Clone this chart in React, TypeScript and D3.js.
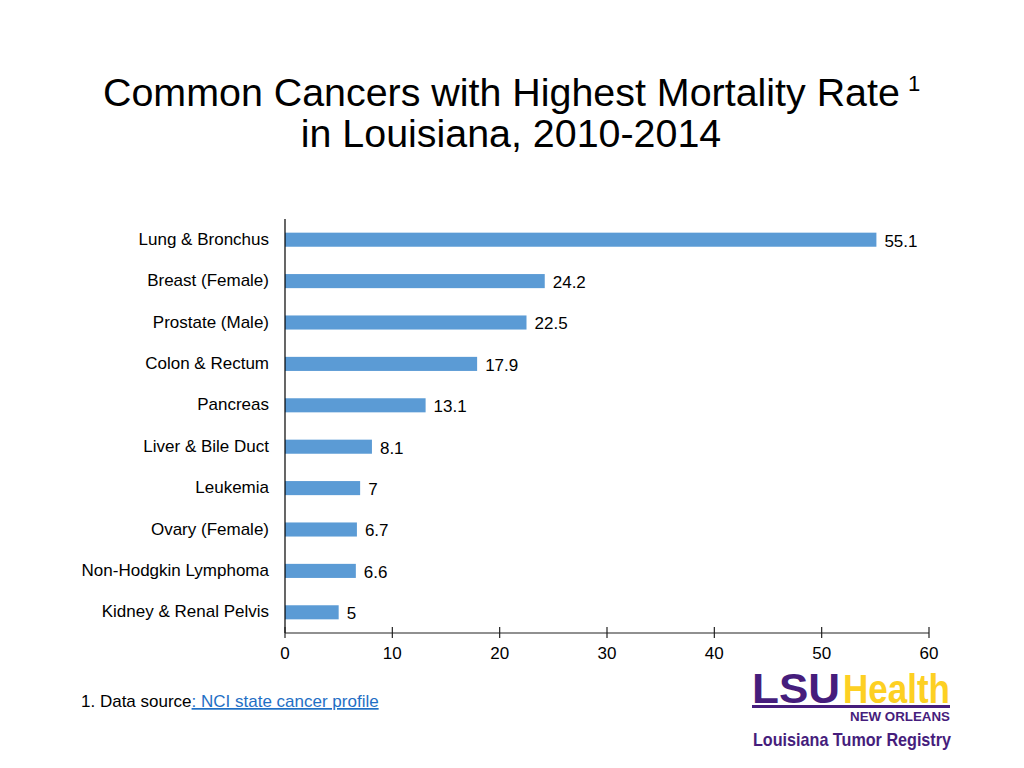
import React from "react";
import * as d3 from "d3";

const categories = [
  "Lung & Bronchus",
  "Breast (Female)",
  "Prostate (Male)",
  "Colon & Rectum",
  "Pancreas",
  "Liver & Bile Duct",
  "Leukemia",
  "Ovary (Female)",
  "Non-Hodgkin Lymphoma",
  "Kidney & Renal Pelvis",
];
const values = [55.1, 24.2, 22.5, 17.9, 13.1, 8.1, 7, 6.7, 6.6, 5];
const valueLabels = ["55.1", "24.2", "22.5", "17.9", "13.1", "8.1", "7", "6.7", "6.6", "5"];
const xTicks = [0, 10, 20, 30, 40, 50, 60];

const FONT = "'Liberation Sans', Arial, Helvetica, sans-serif";
const PURPLE = "#461D7C";
const GOLD = "#FDD023";
const FS = 17;

export default function App() {
  const x = d3.scaleLinear().domain([0, 60]).range([285, 929]);
  const y = d3.scaleBand<string>().domain(categories).range([219, 633]).paddingInner(0.66).paddingOuter(0.33);
  const bw = y.bandwidth();

  return (
    <svg width={1024} height={768} style={{ display: "block", position: "absolute", left: 0, top: 0, background: "#fff" }}>
      <rect x={0} y={0} width={1024} height={768} fill="#fff" />
      {/* Title */}
      <text x={103} y={106} fontFamily={FONT} fontSize={39.4} fill="#000">
        Common Cancers with Highest Mortality Rate
      </text>
      <text x={908} y={91} fontFamily={FONT} fontSize={22} fill="#000">1</text>
      <text x={511} y={147} fontFamily={FONT} fontSize={39.4} fill="#000" textAnchor="middle">
        in Louisiana, 2010-2014
      </text>

      {/* Bars */}
      {categories.map((c, i) => (
        <g key={c}>
          <rect x={x(0)} y={y(c)!} width={x(values[i]) - x(0)} height={bw} fill="#5B9BD5" />
          <text x={269} y={y(c)! + bw / 2} dy="0.3em" textAnchor="end" fontFamily={FONT} fontSize={FS} fill="#000">
            {c}
          </text>
          <text x={x(values[i]) + 8} y={y(c)! + bw / 2 + 1} dy="0.35em" fontFamily={FONT} fontSize={FS} fill="#000">
            {valueLabels[i]}
          </text>
        </g>
      ))}

      {/* Axes */}
      <line x1={285} x2={285} y1={219} y2={633} stroke="#000" strokeWidth={1.2} />
      <line x1={285} x2={929} y1={633} y2={633} stroke="#222" strokeWidth={1.2} />
      {xTicks.map((t) => (
        <g key={t}>
          <line x1={x(t)} x2={x(t)} y1={627} y2={638} stroke="#222" strokeWidth={1.2} />
          <text x={x(t)} y={659} textAnchor="middle" fontFamily={FONT} fontSize={FS} fill="#000">
            {t}
          </text>
        </g>
      ))}

      {/* Footnote */}
      <text x={81} y={707} fontFamily={FONT} fontSize={FS} fill="#000">
        1. Data source
        <tspan fill="#1F6FC5" textDecoration="underline">: NCI state cancer profile</tspan>
      </text>

      {/* Logo */}
      <g>
        <text x={752} y={703} fontFamily={FONT} fontSize={42} fontWeight="bold" fill={PURPLE} textLength={88} lengthAdjust="spacingAndGlyphs">
          LSU
        </text>
        <text x={843} y={703} fontFamily={FONT} fontSize={40} fontWeight="bold" fill={GOLD} textLength={107} lengthAdjust="spacingAndGlyphs">
          Health
        </text>
        <rect x={752} y={705} width={198} height={3} fill={PURPLE} />
        <text x={950} y={721} textAnchor="end" fontFamily={FONT} fontSize={13} fontWeight="bold" fill={PURPLE} textLength={100} lengthAdjust="spacingAndGlyphs">
          NEW ORLEANS
        </text>
        <text x={753} y={746} fontFamily={FONT} fontSize={19} fontWeight="bold" fill={PURPLE} textLength={198} lengthAdjust="spacingAndGlyphs">
          Louisiana Tumor Registry
        </text>
      </g>
    </svg>
  );
}
